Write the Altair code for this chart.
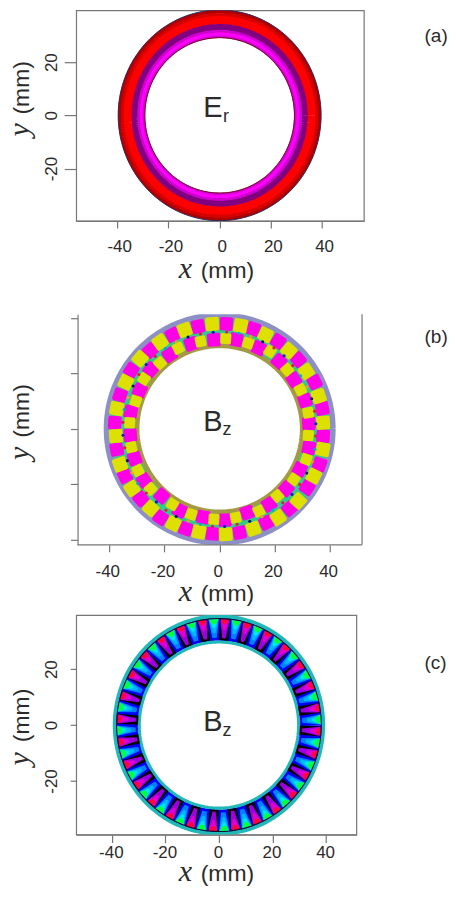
import numpy as np
import pandas as pd
import altair as alt

SANS = "Liberation Sans"
SERIF = "Liberation Serif"
INK = "#2b2b2b"
FRAME = "#777777"

# ---- panel (a): radial field bands (outer radius, inner radius, colour), mm
a_outer = [39.5, 38.3, 37.2, 34.2, 32.0, 31.0, 29.9]
a_inner = [38.3, 37.2, 34.2, 32.0, 31.0, 29.9, 29.2]
a_color = ["#b00000", "#d60000", "#ff0000", "#800080", "#d000d0", "#ff00ff", "#d800d8"]

# ---- panel (b): rings and the two rows of field cells, mm
b_outer = [41.9, 39.6, 30.6]
b_inner = [39.6, 30.6, 29.2]
b_color = ["#8d90c4", "#35c98a", "#a39a45"]
b_row1_x = [2.4, -2.7, -7.8, -12.7, -17.1, -21.6, -25.2, -28.8, -32.0, -34.0, -36.1, -37.3,
            -38.0, -37.6, -37.3, -36.1, -34.3, -31.8, -28.6, -25.0, -21.4, -16.8, -12.3, -7.5,
            -2.7, 2.2, 7.2, 12.2, 16.9, 21.2, 25.3, 28.5, 31.7, 34.1, 36.2, 37.4,
            37.5, 37.5, 37.2, 35.9, 34.4, 31.4, 28.5, 25.1, 21.2, 16.6, 12.2, 7.6]
b_row1_y = [37.8, 37.8, 36.9, 35.7, 33.9, 31.3, 28.2, 25.3, 21.1, 16.8, 12.1, 7.3,
            2.2, -2.6, -7.4, -12.8, -17.0, -21.5, -25.2, -28.7, -32.0, -34.2, -36.0, -37.2,
            -37.8, -38.0, -37.4, -36.0, -33.8, -32.0, -28.7, -26.0, -21.2, -17.0, -12.8, -7.4,
            -2.6, 2.2, 7.3, 11.8, 16.8, 20.7, 24.9, 28.2, 31.5, 33.9, 36.0, 37.2]
b_row2_x = [-2.1, -6.9, -10.3, -15.0, -18.1, -21.6, -25.0, -27.4, -29.0, -30.4, -32.2, -32.6,
            -32.4, -32.0, -30.8, -29.6, -27.4, -25.0, -21.0, -17.1, -14.5, -10.3, -6.0, -2.1,
            1.9, 5.8, 10.0, 14.2, 17.9, 20.9, 24.1, 26.9, 29.0, 31.4, 32.3, 32.1,
            32.3, 32.1, 30.9, 29.3, 26.9, 24.5, 21.5, 18.2, 14.2, 10.3, 6.0, 2.2]
b_row2_y = [32.1, 31.5, 30.6, 29.1, 26.7, 23.7, 21.3, 18.0, 13.8, 10.0, 6.1, 2.2,
            -2.3, -6.6, -10.7, -15.0, -18.6, -21.6, -24.2, -27.2, -29.4, -30.8, -31.8, -32.6,
            -32.9, -32.0, -30.2, -29.6, -27.2, -24.2, -21.6, -18.2, -14.6, -11.0, -6.8, -2.4,
            1.9, 5.8, 10.2, 14.1, 17.7, 21.3, 24.3, 27.9, 29.1, 30.9, 32.1, 32.5]
b_cell_colors = ["#ff00e6", "#dde000"]
b_speck_colors = ["#1020c0", "#e02030", "#101060", "#f0a020", "#00a8c8", "#d02050"]

# ---- panel (c): rings and wedge cells, mm and degrees
c_outer = [39.5, 38.2, 30.2]
c_inner = [38.2, 30.2, 29.3]
c_color = ["#20b8b8", "#0000f0", "#20b8b8"]
c_angle_green = [93.0, 105.9, 118.7, 131.6, 144.4, 157.3, 170.1, 183.0, 195.9, 208.7, 221.6, 234.4,
                 247.3, 260.1, 273.0, 285.9, 298.7, 311.6, 324.4, 337.3, 350.1, 3.0, 15.9, 28.7,
                 41.6, 54.4, 67.3, 80.1]
c_angle_red = [99.4, 112.3, 125.1, 138.0, 150.9, 163.7, 176.6, 189.4, 202.3, 215.1, 228.0, 240.9,
               253.7, 266.6, 279.4, 292.3, 305.1, 318.0, 330.9, 343.7, 356.6, 9.4, 22.3, 35.1,
               48.0, 60.9, 73.7, 86.6]
# wedge layers: inner radius, outer radius, inner width, outer width (mm), colour
c_red_layers = [(30.3, 37.9, 3.4, 3.6, "#000000"), (31.0, 37.6, 1.2, 3.4, "#9a00e0"),
                (34.0, 37.6, 0.8, 3.0, "#e000d0"), (36.2, 37.9, 1.2, 3.2, "#ff0040")]
c_green_layers = [(31.2, 37.9, 1.6, 3.8, "#0080ff"), (33.0, 37.7, 1.0, 3.2, "#00b8ff"),
                  (34.8, 37.7, 0.8, 3.0, "#00e8e0"), (36.2, 37.9, 1.4, 3.6, "#00ff40")]

# ---- axes
a_x_domain, a_y_domain = [-56.0, 56.3], [-39.7, 39.5]
b_x_domain, b_y_domain = [-52.0, 51.6], [-41.8, 41.3]
c_x_domain, c_y_domain = [-53.3, 51.3], [-39.2, 39.4]
x_ticks = [-40, -20, 0, 20, 40]
y_ticks_labelled = [-20, 0, 20]
y_ticks_b = [-40, -20, 0, 20, 40]

PAD_LEFT = -4.7
PAD_TOP = 0.5
PAD_BOTTOM = -2
PAD_RIGHT = -0.5
LABEL_X = 349


def ring_frame(r):
    t = np.linspace(0, 2 * np.pi, 241)
    return pd.DataFrame({"x": r * np.cos(t), "y": r * np.sin(t), "i": np.arange(241)})


def axis_x(tick, pad, off=0, domain=True):
    return alt.Axis(values=x_ticks, tickSize=tick, labelPadding=pad, labelOffset=off, grid=False,
                    domain=domain, domainColor=FRAME, tickColor=FRAME, tickWidth=1.2, domainWidth=1.2,
                    labelFont=SANS, labelFontSize=17, labelColor=INK, labelExpr="'' + datum.value",
                    labelOverlap=False, labelFlush=False)


def axis_y(values, tick, pad, labels=True, offset=0):
    return alt.Axis(values=values, tickSize=tick, labelPadding=pad, labelAngle=270, grid=False,
                    labels=labels, domain=not labels, domainColor=FRAME, tickColor=FRAME, tickWidth=1.2,
                    domainWidth=1.2, offset=offset, labelFont=SANS, labelFontSize=17, labelColor=INK,
                    labelExpr="'' + datum.value", labelOverlap=False, labelFlush=False,
                    labelAlign="center", labelBaseline="bottom")


AXES = {
    tuple(a_x_domain): (axis_x(7, 11, 2), axis_y(y_ticks_labelled, 12, 4)),
    tuple(b_x_domain): (axis_x(7, 12, -2, domain=False), axis_y(y_ticks_b, 7, 4, labels=False, offset=-1.4)),
    tuple(c_x_domain): (axis_x(8, 1.5, -1), axis_y(y_ticks_labelled, 6, 10)),
}


def enc(xd, yd):
    xaxis, yaxis = AXES[tuple(xd)]
    return dict(
        x=alt.X("x:Q", scale=alt.Scale(domain=xd, nice=False, zero=False), axis=xaxis, title=None),
        y=alt.Y("y:Q", scale=alt.Scale(domain=yd, nice=False, zero=False), axis=yaxis, title=None),
    )


def ring(r, width, color, xd, yd):
    return alt.Chart(ring_frame(r)).mark_line(
        color=color, strokeWidth=width, clip=True, strokeCap="butt", strokeJoin="round"
    ).encode(order="i:Q", **enc(xd, yd))


def bands(outer, inner, color, xd, yd, px_per_mm):
    return [ring((ro + ri) / 2, (ro - ri) * px_per_mm + 0.7, col, xd, yd)
            for ro, ri, col in zip(outer, inner, color)]


def txt(label, px, py, font, size, style="normal", angle=0, align="left", baseline="alphabetic"):
    return alt.Chart(pd.DataFrame({"t": [label]})).mark_text(
        font=font, fontSize=size, fontStyle=style, angle=angle, align=align,
        baseline=baseline, color=INK, clip=False,
    ).encode(x=alt.value(px), y=alt.value(py), text="t:N")


def titles(xp, xb, yp_y, yp_mm, ybase):
    return [
        txt("x", xp, xb, SERIF, 30, "italic"),
        txt("(mm)", xp + 22, xb, SANS, 23),
        txt("y", ybase, yp_y, SERIF, 30, "italic", angle=270),
        txt("(mm)", ybase, yp_mm, SANS, 23, angle=270),
    ]


def symbol(label, sub, px, py, sub_px, sub_py):
    return [txt(label, px, py, SANS, 29), txt(sub, sub_px, sub_py, SANS, 18)]


ROUND = "M-0.7,-1 L0.7,-1 Q1,-1 1,-0.7 L1,0.7 Q1,1 0.7,1 L-0.7,1 Q-1,1 -1,0.7 L-1,-0.7 Q-1,-1 -0.7,-1 Z"


def cells(xs, ys, color, size, xd, yd, shape=ROUND):
    xs, ys = np.asarray(xs, float), np.asarray(ys, float)
    df = pd.DataFrame({"x": xs, "y": ys, "rot": np.degrees(np.arctan2(xs, ys)) % 360})
    return alt.Chart(df).mark_point(
        shape=shape, filled=True, color=color, size=size, opacity=1, strokeWidth=0, clip=True
    ).encode(angle=alt.Angle("rot:Q", scale=None), **enc(xd, yd))


# ---- panel a
pa = bands(a_outer, a_inner, a_color, a_x_domain, a_y_domain, 2.65)
pa += [ring(39.6, 1, "#2a2a60", a_x_domain, a_y_domain), ring(29.2, 1, "#6a1010", a_x_domain, a_y_domain)]
pa += titles(102.7, 268.2, 126.5, 104.5, -47.5)
pa += symbol("E", "r", 127.4, 106.5, 147, 111.5)
pa.append(txt("(a)", LABEL_X, 32.2, SANS, 19))
panel_a = alt.layer(*pa).properties(width=288.2, height=211, view={"stroke": FRAME, "strokeWidth": 1.2})

# ---- panel b
pb = bands(b_outer, b_inner, b_color, b_x_domain, b_y_domain, 2.77)
x1 = np.array(b_row1_x)
y1 = np.array(b_row1_y)
x2 = np.array(b_row2_x)
y2 = np.array(b_row2_y)
pb.append(cells(x1[0::2], y1[0::2], b_cell_colors[0], 180, b_x_domain, b_y_domain))
pb.append(cells(x1[1::2], y1[1::2], b_cell_colors[1], 190, b_x_domain, b_y_domain))
pb.append(cells(x2[0::2], y2[0::2], b_cell_colors[0], 180, b_x_domain, b_y_domain))
pb.append(cells(x2[1::2], y2[1::2], b_cell_colors[1], 120, b_x_domain, b_y_domain))
sx = (x1 + np.roll(x1, -1) + x2 + np.roll(x2, -1)) / 4
sy = (y1 + np.roll(y1, -1) + y2 + np.roll(y2, -1)) / 4
speck = pd.DataFrame({"x": sx, "y": sy, "c": [b_speck_colors[k % 6] for k in range(len(sx))]})
pb.append(alt.Chart(speck).mark_point(filled=True, size=10, opacity=1, strokeWidth=0, clip=True).encode(
    color=alt.Color("c:N", scale=None), **enc(b_x_domain, b_y_domain)))
pb.append(alt.Chart(pd.DataFrame({"t": [0]})).mark_rule(color=FRAME, strokeWidth=1.2).encode(
    x=alt.value(1.4), x2=alt.value(286.4), y=alt.value(231)))
pb.append(alt.Chart(pd.DataFrame({"t": [0]})).mark_rule(color=FRAME, strokeWidth=1.2).encode(
    x=alt.value(286.4), y=alt.value(0), y2=alt.value(231)))
pb += titles(102.7, 287, 146, 123.7, -47.5)
pb += symbol("B", "z", 127.4, 117, 146.7, 121)
pb.append(txt("(b)", LABEL_X, 29.3, SANS, 19))
panel_b = alt.layer(*pb).properties(width=286.4, height=231, view={"stroke": None})

# ---- panel c
pc = bands(c_outer, c_inner, c_color, c_x_domain, c_y_domain, 2.72)
pc.append(ring(38.1, 1.2, "#101030", c_x_domain, c_y_domain))


def wedges(angles, layers):
    out = []
    ang = np.radians(np.array(angles))
    for ri, ro, wi, wo, col in layers:
        half = (ro - ri) * 2.75 / 2
        a, b = (wo * 2.75 / 2) / half, (wi * 2.75 / 2) / half
        shape = f"M{-a:.3f},-1 L{a:.3f},-1 L{b:.3f},1 L{-b:.3f},1 Z"
        r = (ri + ro) / 2
        out.append(cells(r * np.cos(ang), r * np.sin(ang), col, (2 * half) ** 2,
                         c_x_domain, c_y_domain, shape=shape))
    return out


pc += wedges(c_angle_red, c_red_layers)
pc += wedges(c_angle_green, c_green_layers)
pc += titles(102.7, 266.7, 150.7, 127.4, -47.5)
pc += symbol("B", "z", 127.4, 116.7, 146.7, 121.4)
pc.append(txt("(c)", LABEL_X, 54.4, SANS, 19))
panel_c = alt.layer(*pc).properties(width=280.7, height=220, view={"stroke": FRAME, "strokeWidth": 1.2})

lower = alt.vconcat(panel_b, panel_c, spacing=70.3, bounds="flush")
chart = alt.vconcat(panel_a, lower, spacing=93.5, bounds="flush").properties(
    padding={"left": PAD_LEFT, "top": PAD_TOP, "right": PAD_RIGHT, "bottom": PAD_BOTTOM},
)
chart.save("out.html", embed_options={"renderer": "svg", "actions": False})
